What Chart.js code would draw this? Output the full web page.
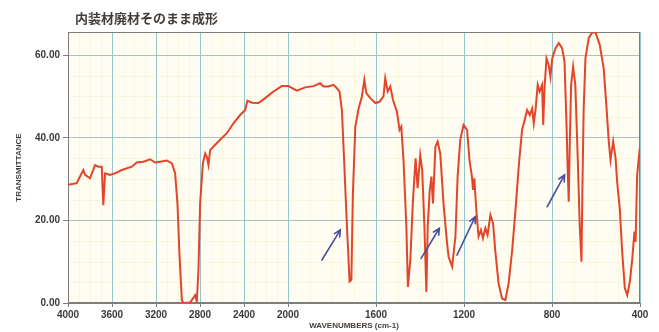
<!DOCTYPE html>
<html>
<head>
<meta charset="utf-8">
<script src="https://cdn.jsdelivr.net/npm/chart.js@4.4.1/dist/chart.umd.min.js"></script>
<style>
html, body { margin: 0; padding: 0; background: #fff; }
</style>
</head>
<body>
<canvas id="irChart" width="659" height="332"></canvas>
<script>
// spectrum (cm-1, %T)
const wavenumbers = [4000, 3921, 3861, 3845, 3800, 3754, 3724, 3693, 3679, 3663, 3618, 3572, 3511, 3420, 3375, 3315, 3254, 3208, 3163, 3102, 3056, 3026, 3005, 2987, 2965, 2951, 2890, 2844, 2829, 2814, 2799, 2774, 2753, 2738, 2723, 2708, 2662, 2617, 2556, 2496, 2435, 2389, 2369, 2328, 2268, 2208, 2132, 2056, 1998, 1960, 1922, 1884, 1854, 1839, 1816, 1793, 1778, 1766, 1755, 1745, 1732, 1720, 1712, 1705, 1694, 1679, 1664, 1653, 1644, 1626, 1603, 1584, 1566, 1558, 1547, 1535, 1523, 1505, 1493, 1485, 1475, 1462, 1455, 1444, 1432, 1420, 1411, 1399, 1390, 1380, 1371, 1365, 1356, 1348, 1341, 1330, 1320, 1308, 1293, 1277, 1270, 1254, 1239, 1229, 1217, 1202, 1186, 1175, 1164, 1159, 1153, 1144, 1134, 1123, 1114, 1103, 1093, 1080, 1068, 1058, 1043, 1027, 1012, 997, 981, 966, 951, 936, 928, 913, 901, 890, 883, 875, 865, 856, 845, 840, 834, 825, 815, 807, 799, 784, 769, 754, 743, 734, 728, 724, 719, 713, 704, 694, 683, 674, 666, 662, 656, 648, 633, 618, 602, 583, 565, 552, 542, 534, 522, 511, 504, 492, 481, 469, 458, 446, 435, 425, 420, 413, 401];
const transmittance = [28.6, 29.0, 32.2, 31.0, 30.2, 33.4, 33.0, 33.0, 23.7, 31.4, 31.0, 31.4, 32.2, 33.0, 34.0, 34.2, 34.8, 34.0, 34.2, 34.5, 33.8, 31.4, 24.1, 12.0, 0.7, 0.0, 0.1, 1.9, 0.3, 8.0, 24.1, 33.8, 36.2, 35.4, 33.4, 37.0, 38.3, 39.5, 41.1, 43.5, 45.5, 46.7, 49.0, 48.5, 48.4, 49.6, 51.2, 52.5, 52.5, 51.4, 52.2, 52.5, 53.2, 52.4, 52.4, 52.8, 52.0, 51.2, 46.7, 34.6, 18.5, 5.2, 5.6, 26.6, 42.7, 47.1, 50.0, 54.0, 50.8, 49.6, 48.4, 48.7, 50.0, 54.4, 51.2, 52.4, 49.2, 46.3, 41.9, 42.7, 34.6, 18.5, 3.9, 10.4, 24.9, 35.0, 27.8, 35.8, 32.2, 18.5, 2.7, 18.5, 27.0, 30.6, 24.1, 37.8, 39.1, 36.2, 24.0, 14.5, 11.2, 8.8, 16.1, 30.6, 39.5, 43.1, 41.9, 34.6, 30.6, 27.4, 30.2, 22.5, 16.1, 17.7, 15.7, 18.1, 16.5, 21.3, 19.3, 12.8, 4.8, 1.1, 0.7, 4.8, 12.8, 22.5, 33.2, 42.0, 43.5, 46.7, 45.5, 47.1, 43.5, 46.7, 52.8, 51.2, 52.8, 43.1, 52.0, 59.2, 57.6, 54.8, 59.2, 61.7, 62.9, 61.7, 58.4, 43.1, 31.0, 24.5, 39.1, 52.8, 57.2, 52.8, 35.0, 18.9, 10.0, 27.0, 47.1, 59.2, 64.1, 65.5, 65.5, 62.5, 56.8, 47.1, 39.1, 34.6, 39.1, 35.0, 29.4, 22.9, 12.4, 3.6, 1.9, 5.2, 10.8, 17.3, 14.8, 31.0, 37.5];

const xTicks = [4000, 3600, 3200, 2800, 2400, 2000, 1600, 1200, 800, 400];
const yTicks = [0, 20, 40, 60];

// hand-drawn arrows on the printout
const arrowFromWn = [1846, 1395, 1232, 822];
const arrowFromT = [10.4, 10.8, 11.6, 23.3];
const arrowToWn = [1762, 1312, 1149, 743];
const arrowToT = [17.7, 18.1, 20.9, 31.0];

// IR paper: 4000-2000 is compressed to half the scale of 2000-400
class IrScale extends Chart.LinearScale {
    toUnits(v) {
        return v >= 2000 ? 4000 - v : 2000 + 2 * (2000 - v);
    }
    getPixelForValue(v) {
        return this.left + this.width * this.toUnits(v) / 5200;
    }
    getValueForPixel(p) {
        const u = (p - this.left) / this.width * 5200;
        return u <= 2000 ? 4000 - u : 2000 - (u - 2000) / 2;
    }
    buildTicks() {
        return xTicks.map(v => ({ value: v }));
    }
}
IrScale.id = 'ir';
IrScale.defaults = {};
Chart.register(IrScale);

const paper = {
    id: 'paper',
    beforeDraw(chart) {
        const { ctx, chartArea: a, scales } = chart;
        ctx.save();
        ctx.fillStyle = '#ffffff';
        ctx.fillRect(0, 0, chart.width, chart.height);
        ctx.fillStyle = '#fffdf2';
        ctx.fillRect(a.left, a.top, a.right - a.left, a.bottom - a.top);
        // faint minor grid of the chart paper
        ctx.strokeStyle = 'rgba(226, 226, 150, 0.22)';
        ctx.lineWidth = 1;
        for (let wn = 3900; wn > 400; wn -= 100) {
            if (wn % 400 === 0) continue;
            const x = Math.round(scales.x.getPixelForValue(wn)) + 0.5;
            ctx.beginPath();
            ctx.moveTo(x, a.top);
            ctx.lineTo(x, a.bottom);
            ctx.stroke();
        }
        for (let t = 5; t < 65; t += 5) {
            if (t % 20 === 0) continue;
            const y = Math.round(scales.y.getPixelForValue(t)) + 0.5;
            ctx.beginPath();
            ctx.moveTo(a.left, y);
            ctx.lineTo(a.right, y);
            ctx.stroke();
        }
        ctx.restore();
    },
    beforeDatasetsDraw(chart) {
        const { ctx, chartArea: a } = chart;
        ctx.save();
        ctx.strokeStyle = '#7d7d7d';
        ctx.lineWidth = 1;
        ctx.strokeRect(a.left + 0.5, a.top + 0.5, a.right - a.left - 1, a.bottom - a.top - 1);
        ctx.restore();
    },
    afterDatasetsDraw(chart) {
        const { ctx, scales } = chart;
        ctx.save();
        ctx.strokeStyle = '#4b4f9e';
        ctx.lineWidth = 1.6;
        ctx.lineCap = 'round';
        for (let i = 0; i < arrowFromWn.length; i++) {
            const x1 = scales.x.getPixelForValue(arrowFromWn[i]);
            const y1 = scales.y.getPixelForValue(arrowFromT[i]);
            const x2 = scales.x.getPixelForValue(arrowToWn[i]);
            const y2 = scales.y.getPixelForValue(arrowToT[i]);
            const ang = Math.atan2(y2 - y1, x2 - x1);
            ctx.beginPath();
            ctx.moveTo(x1, y1);
            ctx.lineTo(x2, y2);
            ctx.moveTo(x2 - 7 * Math.cos(ang - 0.45), y2 - 7 * Math.sin(ang - 0.45));
            ctx.lineTo(x2, y2);
            ctx.lineTo(x2 - 7 * Math.cos(ang + 0.45), y2 - 7 * Math.sin(ang + 0.45));
            ctx.stroke();
        }
        ctx.restore();
    },
    afterDraw(chart) {
        const { ctx, chartArea: a } = chart;
        ctx.save();
        ctx.fillStyle = '#443f3a';
        ctx.textBaseline = 'middle';
        ctx.font = 'bold 13px "Noto Sans CJK JP"';
        ctx.fillText('内装材廃材そのまま成形', 75, 18);
        ctx.font = 'bold 8px "Liberation Sans Narrow", "Liberation Sans"';
        ctx.textAlign = 'center';
        ctx.fillText('WAVENUMBERS (cm-1)', (a.left + a.right) / 2, 326);
        ctx.translate(19, (a.top + a.bottom) / 2);
        ctx.rotate(-Math.PI / 2);
        ctx.fillText('TRANSMITTANCE', 0, 0);
        ctx.restore();
    }
};

const ctx = document.getElementById('irChart').getContext('2d');
new Chart(ctx, {
    type: 'line',
    data: {
        datasets: [{
            data: wavenumbers.map((wn, i) => ({ x: wn, y: transmittance[i] })),
            borderColor: '#e2452c',
            borderWidth: 2,
            pointRadius: 0,
            tension: 0,
            fill: false
        }]
    },
    options: {
        responsive: false,
        devicePixelRatio: 1,
        animation: false,
        layout: { padding: { top: 32, right: 19, left: 0, bottom: 0 } },
        plugins: {
            legend: { display: false },
            tooltip: { enabled: false }
        },
        scales: {
            x: {
                type: 'ir',
                min: 400,
                max: 4000,
                afterFit: s => { s.height = 29; },
                grid: { color: '#94c6cc', tickLength: 4, tickColor: '#7d7d7d' },
                border: { color: '#7d7d7d' },
                ticks: {
                    autoSkip: false,
                    maxRotation: 0,
                    padding: 2,
                    color: '#3b3b3b',
                    font: { family: 'Liberation Sans', size: 10, weight: 'bold' },
                    callback: v => String(v)
                }
            },
            y: {
                min: 0,
                max: 65.6,
                afterFit: s => { s.width = 68; },
                afterBuildTicks: s => { s.ticks = yTicks.map(v => ({ value: v })); },
                grid: { color: '#a9c4c2', tickLength: 5, tickColor: '#7d7d7d' },
                border: { color: '#7d7d7d' },
                ticks: {
                    padding: 3,
                    color: '#3b3b3b',
                    font: { family: 'Liberation Sans', size: 10, weight: 'bold' },
                    callback: v => v.toFixed(2)
                }
            }
        }
    },
    plugins: [paper]
});
</script>
</body>
</html>
